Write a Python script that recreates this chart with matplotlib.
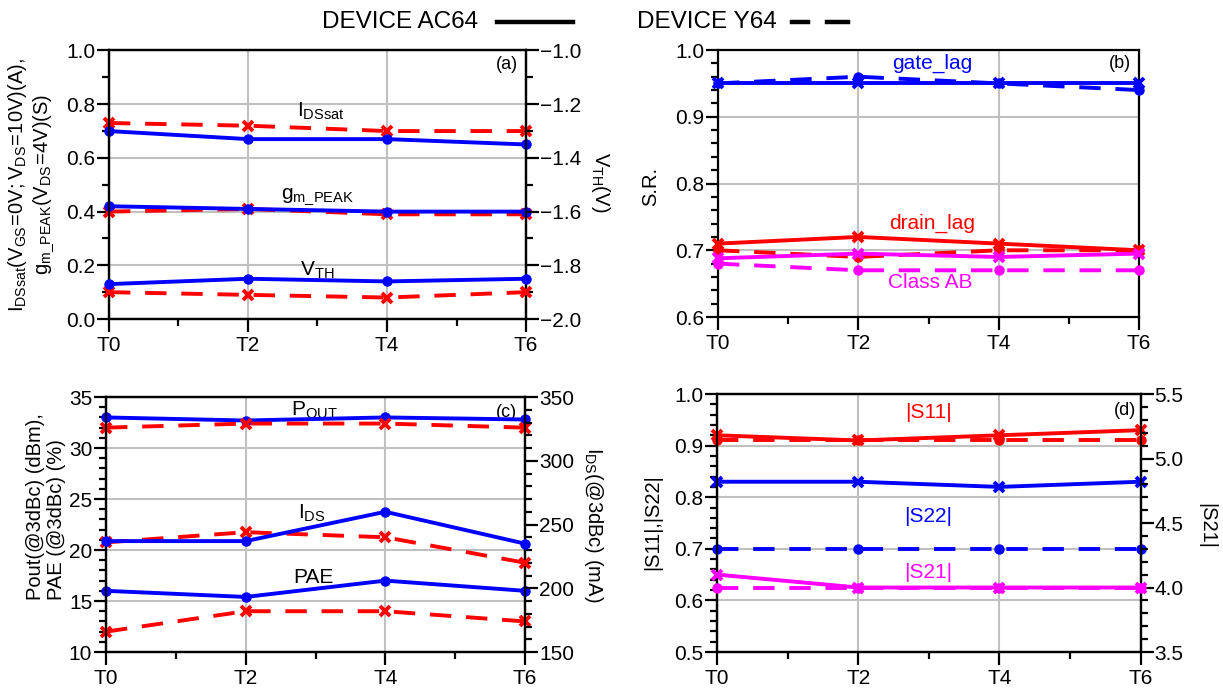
import matplotlib
matplotlib.use('Agg')
import matplotlib.pyplot as plt
from matplotlib.lines import Line2D
from matplotlib.ticker import MultipleLocator

plt.rcParams['font.family'] = ['Liberation Sans', 'DejaVu Sans']
plt.rcParams['mathtext.fontset'] = 'custom'
plt.rcParams['mathtext.rm'] = 'Liberation Sans'
plt.rcParams['mathtext.it'] = 'Liberation Sans:italic'
plt.rcParams['mathtext.bf'] = 'Liberation Sans:bold'

# x categories
x = [0, 2, 4, 6]
xlabels = ['T0', 'T2', 'T4', 'T6']

# (a) DC parameters
idsat_ac = [0.70, 0.67, 0.67, 0.65]
idsat_y = [0.73, 0.72, 0.70, 0.70]
gm_ac = [0.42, 0.41, 0.40, 0.40]
gm_y = [0.40, 0.41, 0.39, 0.39]
vth_ac = [-1.87, -1.85, -1.86, -1.85]
vth_y = [-1.90, -1.91, -1.92, -1.90]

# (b) slump ratio
gate_ac = [0.95, 0.95, 0.95, 0.95]
gate_y = [0.95, 0.96, 0.95, 0.94]
drain_ac = [0.71, 0.72, 0.71, 0.70]
drain_y = [0.70, 0.69, 0.70, 0.70]
classab_ac = [0.688, 0.695, 0.69, 0.695]
classab_y = [0.68, 0.67, 0.67, 0.67]

# (c) power
pout_ac = [33.0, 32.7, 33.0, 32.8]
pout_y = [32.0, 32.4, 32.4, 32.0]
ids_ac = [237, 237, 260, 235]
ids_y = [236, 244, 240, 220]
pae_ac = [16.0, 15.4, 17.0, 16.0]
pae_y = [12.0, 14.0, 14.0, 13.0]

# (d) S-parameters
s11_ac = [0.92, 0.91, 0.92, 0.93]
s11_y = [0.91, 0.91, 0.91, 0.91]
s22_ac = [0.83, 0.83, 0.82, 0.83]
s22_y = [0.70, 0.70, 0.70, 0.70]
s21_ac = [4.1, 4.0, 4.0, 4.0]
s21_y = [4.0, 4.0, 4.0, 4.0]

BLUE = '#0000ff'
RED = '#ff0000'
MAG = '#ff00ff'
DASH = (0, (5.5, 3.8))
LW = 2.8
TICKFS = 15
LABFS = 14.5
TXTFS = 15


def solid(ax, y, c, m):
    if m == 'o':
        ax.plot(x, y, color=c, lw=LW, marker='o', ms=6.5, clip_on=False, zorder=5)
    else:
        ax.plot(x, y, color=c, lw=LW, marker='x', ms=7, mew=2.8, clip_on=False, zorder=5)


def dashed(ax, y, c, m):
    if m == 'o':
        ax.plot(x, y, color=c, lw=LW, ls=DASH, marker='o', ms=6.5, clip_on=False, zorder=5)
    else:
        ax.plot(x, y, color=c, lw=LW, ls=DASH, marker='x', ms=7, mew=2.8, clip_on=False, zorder=5)


def style(ax, ymin, ymax, major, minor):
    ax.set_xlim(0, 6)
    ax.set_ylim(ymin, ymax)
    ax.set_xticks(x)
    ax.set_xticklabels(xlabels)
    ax.xaxis.set_minor_locator(MultipleLocator(1))
    ax.yaxis.set_major_locator(MultipleLocator(major))
    ax.yaxis.set_minor_locator(MultipleLocator(minor))
    ax.grid(True, which='major', color='#c0c0c0', lw=1.5)
    ax.set_axisbelow(True)
    for s in ax.spines.values():
        s.set_linewidth(1.6)
    ax.tick_params(which='major', direction='out', length=9, width=1.6,
                   labelsize=TICKFS, pad=1)
    ax.tick_params(which='minor', direction='out', length=5, width=1.6)
    ax.tick_params(axis='x', pad=3)


def style_right(ax2, ymin, ymax, major, minor, fmt=None):
    ax2.set_ylim(ymin, ymax)
    ax2.yaxis.set_major_locator(MultipleLocator(major))
    ax2.yaxis.set_minor_locator(MultipleLocator(minor))
    if fmt:
        ax2.yaxis.set_major_formatter(fmt)
    ax2.tick_params(which='major', direction='out', length=9, width=1.6,
                    labelsize=TICKFS, pad=1)
    ax2.tick_params(which='minor', direction='out', length=5, width=1.6)
    for s in ax2.spines.values():
        s.set_linewidth(1.6)


fig = plt.figure(figsize=(12.23, 6.88), dpi=100)

# ---------- (a)
ax = fig.add_axes([0.0891, 0.5363, 0.341, 0.3903])
style(ax, 0.0, 1.0, 0.2, 0.1)
ax.yaxis.set_major_formatter('{x:.1f}')
dashed(ax, idsat_y, RED, 'x')
solid(ax, idsat_ac, BLUE, 'o')
dashed(ax, gm_y, RED, 'x')
solid(ax, gm_ac, BLUE, 'o')
ax2 = ax.twinx()
style_right(ax2, -2.0, -1.0, 0.2, 0.1, '{x:.1f}')
dashed(ax2, vth_y, RED, 'x')
solid(ax2, vth_ac, BLUE, 'o')
ax.set_ylabel(r'$\mathregular{I_{DSsat}(V_{GS}\!=\!0V;V_{DS}\!=\!10V)(A)}$,' '\n'
              r'$\mathregular{g_{m\_PEAK}(V_{DS}\!=\!4V)(S)}$',
              fontsize=LABFS, linespacing=1.15)
ax.yaxis.set_label_coords(-0.127, 0.5)
ax2.set_ylabel(r'$\mathregular{V_{TH}(V)}$', fontsize=LABFS, rotation=270, va='bottom')
ax2.yaxis.set_label_coords(1.15, 0.51)
ax.text(3.05, 0.775, r'$\mathregular{I_{DSsat}}$', fontsize=TXTFS, ha='center', va='center')
ax.text(3.0, 0.454, r'$\mathregular{g_{m\_PEAK}}$', fontsize=TXTFS, ha='center', va='center')
ax.text(3.0, 0.18, r'$\mathregular{V_{TH}}$', fontsize=TXTFS, ha='center', va='center')
ax.text(0.981, 0.948, '(a)', transform=ax.transAxes, fontsize=13, ha='right', va='center')

# ---------- (b)
ax = fig.add_axes([0.5871, 0.5392, 0.3442, 0.3881])
style(ax, 0.6, 1.0, 0.1, 0.02)
ax.yaxis.set_major_formatter('{x:.1f}')
solid(ax, gate_ac, BLUE, 'x')
dashed(ax, gate_y, BLUE, 'o')
solid(ax, drain_ac, RED, 'x')
dashed(ax, drain_y, RED, 'o')
solid(ax, classab_ac, MAG, 'x')
dashed(ax, classab_y, MAG, 'o')
ax.set_ylabel('S.R.', fontsize=LABFS)
ax.yaxis.set_label_coords(-0.138, 0.49)
ax.text(3.05, 0.98, 'gate_lag', color=BLUE, fontsize=TXTFS, ha='center', va='center')
ax.text(3.05, 0.741, 'drain_lag', color=RED, fontsize=TXTFS, ha='center', va='center')
ax.text(3.03, 0.651, 'Class AB', color=MAG, fontsize=TXTFS, ha='center', va='center')
ax.text(0.981, 0.951, '(b)', transform=ax.transAxes, fontsize=13, ha='right', va='center')

# ---------- (c)
ax = fig.add_axes([0.0867, 0.0523, 0.3426, 0.3706])
style(ax, 10, 35, 5, 1)
solid(ax, pout_ac, BLUE, 'o')
dashed(ax, pout_y, RED, 'x')
solid(ax, pae_ac, BLUE, 'o')
dashed(ax, pae_y, RED, 'x')
ax2 = ax.twinx()
style_right(ax2, 150, 350, 50, 10)
dashed(ax2, ids_y, RED, 'x')
solid(ax2, ids_ac, BLUE, 'o')
ax.set_ylabel('Pout(@3dBc) (dBm),\nPAE (@3dBc) (%)', fontsize=LABFS,
              linespacing=1.15, multialignment='left')
ax.yaxis.set_label_coords(-0.095, 0.57)
ax2.set_ylabel(r'$\mathregular{I_{DS}}$(@3dBc) (mA)', fontsize=LABFS, rotation=270,
               va='bottom')
ax2.yaxis.set_label_coords(1.136, 0.5)
ax.text(2.98, 33.7, r'$\mathregular{P_{OUT}}$', fontsize=TXTFS, ha='center', va='center')
ax.text(2.94, 23.6, r'$\mathregular{I_{DS}}$', fontsize=TXTFS, ha='center', va='center')
ax.text(2.97, 17.35, 'PAE', fontsize=TXTFS, ha='center', va='center')
ax.text(0.981, 0.94, '(c)', transform=ax.transAxes, fontsize=13, ha='right', va='center')

# ---------- (d)
ax = fig.add_axes([0.5863, 0.0523, 0.3463, 0.375])
style(ax, 0.5, 1.0, 0.1, 0.02)
ax.yaxis.set_major_formatter('{x:.1f}')
solid(ax, s11_ac, RED, 'x')
dashed(ax, s11_y, RED, 'o')
solid(ax, s22_ac, BLUE, 'x')
dashed(ax, s22_y, BLUE, 'o')
ax2 = ax.twinx()
style_right(ax2, 3.5, 5.5, 0.5, 0.1, '{x:.1f}')
dashed(ax2, s21_y, MAG, 'o')
solid(ax2, s21_ac, MAG, 'x')
ax.set_ylabel('|S11|,|S22|', fontsize=LABFS)
ax.yaxis.set_label_coords(-0.13, 0.504)
ax2.set_ylabel('|S21|', fontsize=LABFS, rotation=270, va='bottom')
ax2.yaxis.set_label_coords(1.133, 0.49)
ax.text(2.99, 0.965, '|S11|', color=RED, fontsize=TXTFS, ha='center', va='center')
ax.text(2.99, 0.762, '|S22|', color=BLUE, fontsize=TXTFS, ha='center', va='center')
ax.text(2.99, 0.655, '|S21|', color=MAG, fontsize=TXTFS, ha='center', va='center')
ax.text(0.989, 0.938, '(d)', transform=ax.transAxes, fontsize=13, ha='right', va='center')

# ---------- device legend on top
fig.text(0.263, 0.968, 'DEVICE AC64', fontsize=17.5, ha='left', va='center')
fig.add_artist(Line2D([0.406, 0.4685], [0.968, 0.968], color='black', lw=3.2))
fig.text(0.521, 0.968, 'DEVICE Y64', fontsize=17.5, ha='left', va='center')
fig.add_artist(Line2D([0.6476, 0.6607], [0.968, 0.968], color='black', lw=3.2))
fig.add_artist(Line2D([0.676, 0.693], [0.968, 0.968], color='black', lw=3.2))

fig.savefig('out.png', dpi=100)
